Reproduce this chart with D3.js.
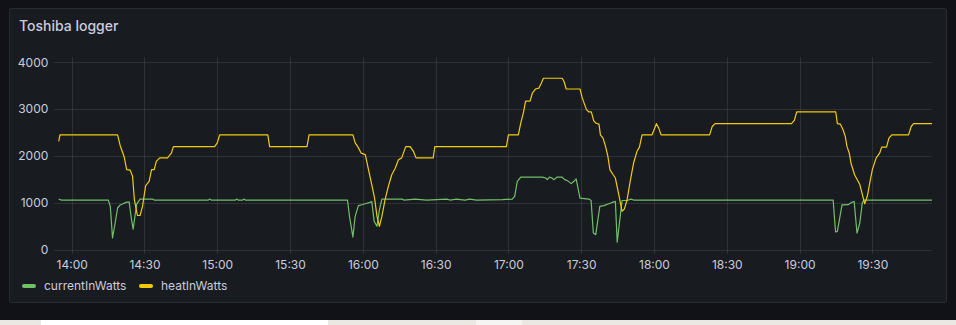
<!DOCTYPE html>
<html>
<head>
<meta charset="utf-8">
<script src="https://cdn.jsdelivr.net/npm/d3@7"></script>
<style>
  html, body { margin: 0; padding: 0; background: #111217; }
  svg { display: block; }
</style>
</head>
<body>
<svg id="chart" width="956" height="325"></svg>
<script>
var title = 'Toshiba logger';
var seriesNames = ['currentInWatts', 'heatInWatts'];
var seriesColors = ['#73BF69', '#F2CC0C'];
var yTicks = [0, 1000, 2000, 3000, 4000];
var timeRange = ['13:52:50', '19:54:35'];

var currentTime = ['13:54:40', '13:55:40', '14:15:05', '14:15:55', '14:16:50', '14:17:55', '14:18:55', '14:20:00', '14:21:10', '14:22:20',
    '14:23:40', '14:24:40', '14:25:20', '14:26:10', '14:26:50', '14:28:10', '14:33:20', '14:34:00', '14:56:20', '14:56:50',
    '14:57:30', '15:07:30', '15:08:00', '15:08:35', '15:10:30', '15:11:00', '15:11:35', '15:53:40', '15:54:30', '15:55:55',
    '15:56:50', '15:58:10', '15:59:35', '16:01:00', '16:03:00', '16:03:40', '16:04:40', '16:05:50', '16:06:50', '16:07:50',
    '16:16:10', '16:16:55', '16:21:30', '16:26:20', '16:34:30', '16:35:55', '16:38:35', '16:42:05', '16:44:05', '16:46:50',
    '16:57:30', '17:01:35', '17:02:35', '17:03:40', '17:05:05', '17:14:00', '17:15:20', '17:16:00', '17:16:55', '17:17:55',
    '17:18:50', '17:20:05', '17:22:10', '17:23:10', '17:24:10', '17:25:55', '17:27:00', '17:27:55', '17:29:30', '17:33:10',
    '17:34:05', '17:35:00', '17:36:00', '17:37:40', '17:39:20', '17:41:25', '17:43:25', '17:44:05', '17:44:50', '17:45:55',
    '17:46:50', '17:48:55', '17:50:30', '17:51:35', '19:13:50', '19:14:50', '19:15:35', '19:17:30', '19:20:00', '19:21:25',
    '19:22:30', '19:23:40', '19:24:50', '19:25:50', '19:26:30', '19:54:35'];
var currentWatts = [1080, 1060, 1060, 925, 250, 570, 890, 955, 980, 1010,
    1020, 640, 440, 750, 980, 1080, 1080, 1060, 1060, 1080,
    1060, 1060, 1080, 1060, 1060, 1080, 1060, 1060, 710, 270,
    710, 940, 960, 980, 1010, 1030, 605, 500, 850, 1080,
    1080, 1060, 1080, 1060, 1080, 1060, 1080, 1060, 1080, 1060,
    1070, 1080, 1140, 1460, 1550, 1550, 1530, 1495, 1550, 1530,
    1495, 1550, 1550, 1495, 1480, 1410, 1460, 1510, 1100, 1080,
    1050, 355, 320, 925, 940, 980, 1020, 1030, 160, 640,
    1050, 1050, 1080, 1060, 1060, 380, 390, 955, 960, 1010,
    1030, 355, 570, 995, 1060, 1060];

var heatTime = ['13:54:40', '13:55:10', '14:18:55', '14:20:00', '14:21:35', '14:22:40', '14:24:05', '14:25:05', '14:25:50', '14:27:05',
    '14:28:10', '14:29:10', '14:30:30', '14:31:55', '14:32:55', '14:34:00', '14:34:55', '14:36:20', '14:39:30', '14:41:05',
    '14:41:55', '14:58:55', '15:00:00', '15:01:00', '15:20:50', '15:21:35', '15:37:00', '15:37:50', '15:55:55', '15:56:50',
    '15:57:55', '15:59:20', '16:01:00', '16:02:20', '16:03:40', '16:04:50', '16:05:50', '16:06:50', '16:07:50', '16:09:10',
    '16:10:30', '16:11:55', '16:13:20', '16:14:40', '16:16:00', '16:17:40', '16:19:30', '16:20:50', '16:21:55', '16:29:00',
    '16:29:40', '16:59:10', '17:00:00', '17:04:05', '17:05:05', '17:06:10', '17:07:05', '17:08:55', '17:09:55', '17:11:10',
    '17:12:35', '17:13:35', '17:14:25', '17:22:10', '17:22:55', '17:23:50', '17:29:30', '17:30:25', '17:32:10', '17:33:10',
    '17:34:10', '17:35:10', '17:36:10', '17:37:20', '17:37:55', '17:39:00', '17:40:00', '17:41:00', '17:41:50', '17:43:10',
    '17:44:05', '17:45:30', '17:46:50', '17:47:50', '17:48:55', '17:50:20', '17:51:35', '17:53:00', '17:54:00', '17:55:05',
    '17:59:10', '18:01:00', '18:01:55', '18:02:55', '18:22:55', '18:24:00', '18:25:10', '18:56:40', '18:57:50', '18:58:50',
    '19:14:55', '19:15:35', '19:16:50', '19:17:55', '19:18:50', '19:19:30', '19:20:30', '19:21:10', '19:22:40', '19:24:50',
    '19:25:55', '19:26:50', '19:27:55', '19:28:55', '19:30:00', '19:31:35', '19:33:00', '19:33:50', '19:35:50', '19:36:50',
    '19:38:00', '19:44:55', '19:46:00', '19:47:00', '19:54:35'];
var heatWatts = [2310, 2450, 2450, 2220, 1990, 1710, 1700, 1570, 1070, 730,
    730, 920, 1370, 1460, 1710, 1710, 1890, 1960, 1960, 2060,
    2200, 2200, 2280, 2450, 2450, 2200, 2200, 2450, 2450, 2280,
    2200, 2060, 2030, 1710, 1390, 1100, 710, 500, 710, 1070,
    1350, 1600, 1740, 1920, 1960, 2200, 2200, 2100, 1960, 1960,
    2200, 2200, 2450, 2450, 2700, 2920, 3170, 3170, 3350, 3430,
    3450, 3560, 3660, 3660, 3590, 3430, 3430, 3240, 2990, 2940,
    2940, 2750, 2700, 2680, 2450, 2380, 2210, 1990, 1710, 1600,
    1530, 1170, 820, 870, 1070, 1500, 1850, 2100, 2190, 2450,
    2450, 2690, 2600, 2450, 2450, 2630, 2690, 2690, 2760, 2940,
    2940, 2690, 2680, 2560, 2420, 2210, 2060, 1850, 1600, 1390,
    1170, 980, 1140, 1420, 1710, 1960, 2060, 2190, 2190, 2380,
    2450, 2450, 2630, 2690, 2690];

var parseTime = d3.timeParse('%H:%M:%S');
var textColor = '#ccccdc';
var fontFamily = 'Inter, "Noto Sans", sans-serif';

var svg = d3.select('#chart');

// page strip under the panel
svg.append('rect').attr('x', 0).attr('y', 320).attr('width', 956).attr('height', 5).attr('fill', '#ebe7e2');
svg.append('rect').attr('x', 41).attr('y', 320).attr('width', 287).attr('height', 5).attr('fill', '#ffffff');
svg.append('rect').attr('x', 476).attr('y', 320).attr('width', 46).attr('height', 5).attr('fill', '#f6f4f2');

// panel
svg.append('rect').attr('x', 9.5).attr('y', 8.5).attr('width', 937).attr('height', 294).attr('rx', 2)
    .attr('fill', '#181b1f').attr('stroke', 'rgba(204,204,220,0.12)');

svg.append('text').attr('x', 19).attr('y', 31).attr('fill', textColor)
    .attr('style', 'font-family:' + fontFamily + '; font-size:14px; font-weight:500').text(title);

var plotLeft = 54.3, plotRight = 932, gridTop = 57, gridBottom = 254;

var x = d3.scaleTime().domain(timeRange.map(parseTime)).range([plotLeft, plotRight]);
var y = d3.scaleLinear().domain([0, 4000]).range([249.7, 62.3]);

var xTicks = d3.timeMinute.every(30).range(parseTime('14:00:00'), parseTime('19:31:00'));

var xAxis = svg.append('g').attr('transform', 'translate(0,' + gridBottom + ')')
    .call(d3.axisBottom(x).tickValues(xTicks).tickFormat(d3.timeFormat('%H:%M'))
        .tickSize(-(gridBottom - gridTop)).tickPadding(6));

var yAxis = svg.append('g').attr('transform', 'translate(' + plotLeft + ',0)')
    .call(d3.axisLeft(y).tickValues(yTicks).tickFormat(d3.format('d'))
        .tickSize(-(plotRight - plotLeft)).tickPadding(6));

[xAxis, yAxis].forEach(function(axis) {
    axis.select('.domain').remove();
    axis.selectAll('.tick line').attr('stroke', 'rgba(204,204,220,0.12)').attr('shape-rendering', 'crispEdges');
    axis.selectAll('.tick text').attr('fill', textColor)
        .attr('style', 'font-family:' + fontFamily + '; font-size:12px');
});

var series = [
    { times: currentTime, values: currentWatts },
    { times: heatTime, values: heatWatts }
];

var line = d3.line().x(function(d) { return x(d[0]); }).y(function(d) { return y(d[1]); });

series.forEach(function(s, i) {
    var points = s.times.map(function(t, j) { return [parseTime(t), s.values[j]]; });
    svg.append('path').datum(points).attr('d', line)
        .attr('fill', 'none').attr('stroke', seriesColors[i]).attr('stroke-width', 1.2)
        .attr('stroke-linejoin', 'round');
});

// legend
var legendX = [22, 139];
seriesNames.forEach(function(name, i) {
    var g = svg.append('g').attr('transform', 'translate(' + legendX[i] + ',286)');
    g.append('rect').attr('x', 0).attr('y', -2).attr('width', 14).attr('height', 4).attr('rx', 2)
        .attr('fill', seriesColors[i]);
    g.append('text').attr('x', 22).attr('y', 4.3).attr('fill', textColor)
        .attr('style', 'font-family:' + fontFamily + '; font-size:12px').text(name);
});
</script>
</body>
</html>
